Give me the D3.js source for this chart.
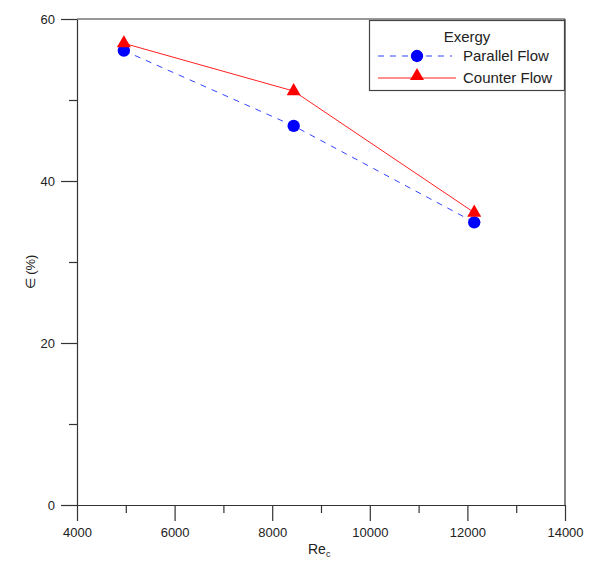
<!DOCTYPE html>
<html>
<head>
<meta charset="utf-8">
<script src="https://cdn.jsdelivr.net/npm/d3@7"></script>
<style>
  body { margin: 0; background: #fff; }
  svg { font-family: "Liberation Sans", Arial, sans-serif; }
</style>
</head>
<body>
<svg id="chart" width="593" height="563"></svg>
<script>
// Reynolds number of the cold stream
const reynolds = [4960, 8440, 12140];
// Exergy efficiency (%) for each flow arrangement
const parallelFlow = [56.1, 46.8, 34.9];
const counterFlow = [57.0, 51.1, 36.1];
const xTicks = [4000, 6000, 8000, 10000, 12000, 14000];
const yTicks = [0, 20, 40, 60];
const legendTitle = "Exergy";
const seriesNames = ["Parallel Flow", "Counter Flow"];

const svg = d3.select("#chart");
const margin = { left: 77, right: 28, top: 19, bottom: 58 };
const W = 593, H = 563;

const x = d3.scaleLinear().domain([4000, 14000]).range([margin.left, W - margin.right]);
const y = d3.scaleLinear().domain([0, 60]).range([H - margin.bottom, margin.top]);

const axisColor = "#333";

// Frame (top and right edges)
svg.append("line").attr("x1", x(4000)).attr("x2", x(14000)).attr("y1", y(60)).attr("y2", y(60))
  .attr("stroke", axisColor).attr("stroke-width", 1.2);
svg.append("line").attr("x1", x(14000)).attr("x2", x(14000)).attr("y1", y(60)).attr("y2", y(0))
  .attr("stroke", axisColor).attr("stroke-width", 1.2);

// X axis with minor ticks
const xAxis = svg.append("g").attr("transform", `translate(0,${y(0)})`);
xAxis.call(d3.axisBottom(x).tickValues(d3.range(4000, 14001, 1000)).tickSize(0).tickFormat(""));
xAxis.selectAll(".tick").append("line")
  .attr("y2", d => (d % 2000 === 0 ? 16 : 8))
  .attr("stroke", axisColor).attr("stroke-width", 1.2);
xAxis.selectAll(".tick")
  .filter(d => xTicks.includes(d))
  .append("text")
  .attr("y", 32).attr("fill", "#222").attr("font-size", 13).attr("text-anchor", "middle")
  .text(d => d);
xAxis.select(".domain").attr("stroke", axisColor).attr("stroke-width", 1.2);

// Y axis with minor ticks
const yAxis = svg.append("g").attr("transform", `translate(${x(4000)},0)`);
yAxis.call(d3.axisLeft(y).tickValues(d3.range(0, 61, 10)).tickSize(0).tickFormat(""));
yAxis.selectAll(".tick").append("line")
  .attr("x2", d => (d % 20 === 0 ? -16 : -8))
  .attr("stroke", axisColor).attr("stroke-width", 1.2);
yAxis.selectAll(".tick")
  .filter(d => yTicks.includes(d))
  .append("text")
  .attr("x", -22).attr("dy", "0.35em").attr("fill", "#222").attr("font-size", 13).attr("text-anchor", "end")
  .text(d => d);
yAxis.select(".domain").attr("stroke", axisColor).attr("stroke-width", 1.2);

// Axis titles
const xt = svg.append("text").attr("x", 308).attr("y", 554).attr("font-size", 14).attr("fill", "#222");
xt.append("tspan").text("Re");
xt.append("tspan").attr("font-size", 9).attr("dy", 3).text("c");

svg.append("text")
  .attr("transform", "translate(35,272) rotate(-90)")
  .attr("text-anchor", "middle").attr("font-size", 13).attr("fill", "#222")
  .text("\u2208 (%)");

// Series
const line = d3.line();
const parallelPts = reynolds.map((r, i) => [x(r), y(parallelFlow[i])]);
const counterPts = reynolds.map((r, i) => [x(r), y(counterFlow[i])]);

svg.append("path").attr("d", line(parallelPts)).attr("fill", "none")
  .attr("stroke", "#3344ff").attr("stroke-width", 1).attr("stroke-dasharray", "6,6");
svg.append("path").attr("d", line(counterPts)).attr("fill", "none")
  .attr("stroke", "#ff2020").attr("stroke-width", 1);

const circleSym = d3.symbol().type(d3.symbolCircle).size(120);
const triSym = d3.symbol().type(d3.symbolTriangle).size(85);

svg.selectAll(".pp").data(parallelPts).join("path")
  .attr("d", circleSym).attr("transform", d => `translate(${d[0]},${d[1]})`)
  .attr("fill", "#0000ff");
svg.selectAll(".cp").data(counterPts).join("path")
  .attr("d", triSym).attr("transform", d => `translate(${d[0]},${d[1]})`)
  .attr("fill", "#ff0000");

// Legend
const lg = svg.append("g");
lg.append("rect").attr("x", 369.5).attr("y", 20.5).attr("width", 195).attr("height", 70)
  .attr("fill", "#fff").attr("stroke", "#444").attr("stroke-width", 1.2);
lg.append("text").attr("x", 467).attr("y", 42).attr("text-anchor", "middle")
  .attr("font-size", 15).attr("fill", "#222").text(legendTitle);

lg.append("line").attr("x1", 378).attr("x2", 452).attr("y1", 56).attr("y2", 56)
  .attr("stroke", "#3344ff").attr("stroke-width", 1).attr("stroke-dasharray", "6,6");
lg.append("path").attr("d", circleSym).attr("transform", "translate(417,56)").attr("fill", "#0000ff");
lg.append("text").attr("x", 463).attr("y", 61).attr("font-size", 15).attr("fill", "#222").text(seriesNames[0]);

lg.append("line").attr("x1", 378).attr("x2", 456).attr("y1", 78).attr("y2", 78)
  .attr("stroke", "#ff2020").attr("stroke-width", 1);
lg.append("path").attr("d", triSym).attr("transform", "translate(417,76)").attr("fill", "#ff0000");
lg.append("text").attr("x", 463).attr("y", 83).attr("font-size", 15).attr("fill", "#222").text(seriesNames[1]);
</script>
</body>
</html>
